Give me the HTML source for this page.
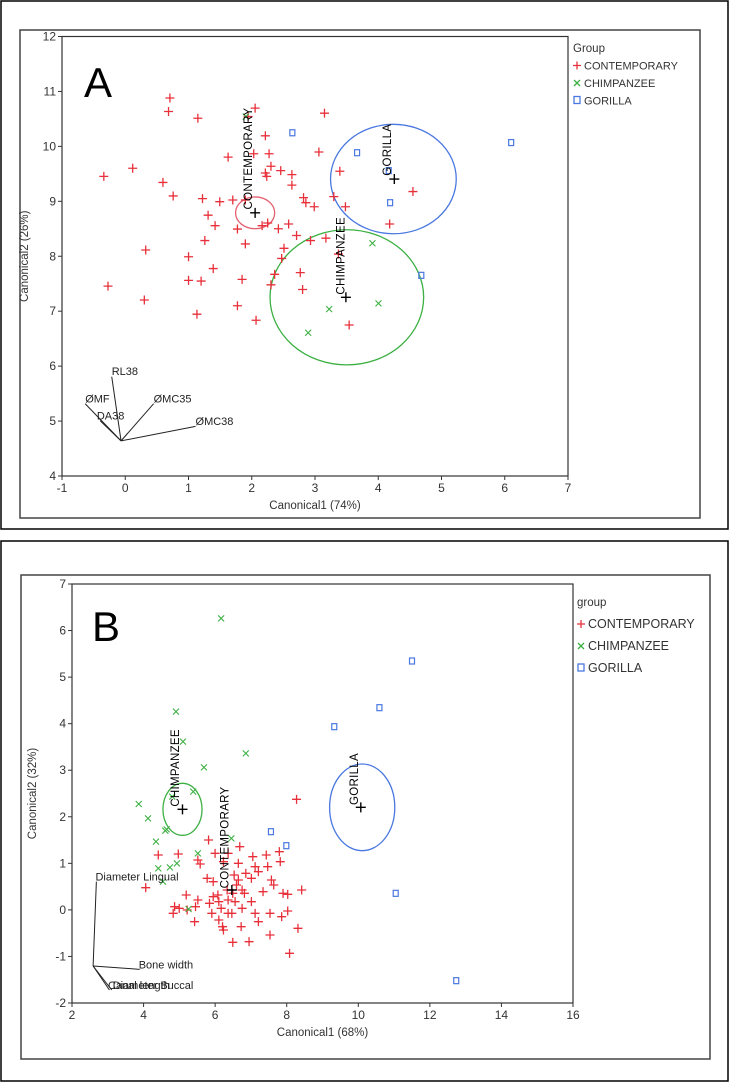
<!DOCTYPE html>
<html><head><meta charset="utf-8"><style>
html,body{margin:0;padding:0;background:#fff;}
svg{display:block;font-family:"Liberation Sans",sans-serif;}
</style></head><body>
<svg id="s" width="730" height="1083" viewBox="0 0 730 1083" xmlns="http://www.w3.org/2000/svg">
<rect x="1" y="1" width="727" height="528" fill="none" stroke="#000" stroke-width="1.5"/>
<rect x="1" y="541" width="727" height="540" fill="none" stroke="#000" stroke-width="1.5"/>
<rect x="20" y="30" width="680" height="488" fill="none" stroke="#444" stroke-width="1.5"/>
<rect x="21" y="575" width="689" height="484" fill="none" stroke="#444" stroke-width="1.5"/>
<g id="g"></g>
</svg>
<script>
var NS="http://www.w3.org/2000/svg",G=document.getElementById('g');
function el(t,a,txt){var e=document.createElementNS(NS,t);for(var k in a)e.setAttribute(k,a[k]);if(txt!=null)e.textContent=txt;G.appendChild(e);return e;}
function panel(o){
 var X=function(zx){return zx/2.148;},Y=function(zy){return o.oy+zy/o.sy;};
 el('rect',{x:o.L,y:o.T,width:o.R-o.L,height:o.B-o.T,fill:'none',stroke:'#333','stroke-width':1.2});
 o.xt.forEach(function(t,i){var x=o.L+i*(o.R-o.L)/(o.xt.length-1);el('line',{x1:x,y1:o.B,x2:x,y2:o.B+4,stroke:'#333'});el('text',{x:x,y:o.B+16,'font-size':12,'text-anchor':'middle',fill:'#333'},t);});
 o.yt.forEach(function(t,i){var y=o.B-i*(o.B-o.T)/(o.yt.length-1);el('line',{x1:o.L-4,y1:y,x2:o.L,y2:y,stroke:'#333'});el('text',{x:o.L-6,y:y+4,'font-size':12,'text-anchor':'end',fill:'#333'},t);});
 el('text',{x:(o.L+o.R)/2,y:o.B+33,'font-size':11.5,'text-anchor':'middle',fill:'#333'},o.xl);
 var yc=(o.T+o.B)/2;el('text',{x:o.ylx,y:yc,'font-size':11.5,'text-anchor':'middle',fill:'#333',transform:'rotate(-90 '+o.ylx+' '+yc+')'},o.yl);
 el('text',{x:o.lblx,y:o.lbly,'font-size':42,fill:'#000'},o.lbl);
 o.ell.forEach(function(e){el('ellipse',{cx:X(e[0]),cy:Y(e[1]),rx:e[2]/2.148,ry:e[3]/o.sy,fill:'none',stroke:e[4],'stroke-width':1.3});});
 o.red.forEach(function(p){var x=X(p[0]),y=Y(p[1]);el('path',{d:'M'+(x-4.5)+' '+y+'h9M'+x+' '+(y-4.5)+'v9',stroke:'#e8303a','stroke-width':1.3});});
 o.grn.forEach(function(p){var x=X(p[0]),y=Y(p[1]);el('path',{d:'M'+(x-3)+' '+(y-3)+'l6 6M'+(x-3)+' '+(y+3)+'l6 -6',stroke:'#3cb043','stroke-width':1.1});});
 o.blu.forEach(function(p){var x=X(p[0]),y=Y(p[1]);el('rect',{x:x-2.5,y:y-3,width:5,height:6,fill:'none',stroke:'#4a78e0','stroke-width':1.2});});
 o.cen.forEach(function(c){var x=X(c[0]),y=Y(c[1]);el('path',{d:'M'+(x-5)+' '+y+'h10M'+x+' '+(y-5)+'v10',stroke:'#000','stroke-width':1.4});
   var tx=X(c[2]),ty=Y(c[3]);el('text',{x:tx,y:ty,'font-size':11.5,fill:'#000',transform:'rotate(-90 '+tx+' '+ty+')','letter-spacing':'0.3'},c[4]);});
 o.lines.forEach(function(l){el('line',{x1:X(l[0]),y1:Y(l[1]),x2:X(l[2]),y2:Y(l[3]),stroke:'#222','stroke-width':1});});
 o.vl.forEach(function(t){el('text',{x:X(t[0]),y:Y(t[1]),'font-size':11,fill:'#222'},t[2]);});
 el('text',{x:o.lgx,y:o.lgy,'font-size':11.5,fill:'#333'},o.lgt);
 var it=[['CONTEMPORARY','r'],['CHIMPANZEE','g'],['GORILLA','b']];
 it.forEach(function(v,i){var y=o.lgy+o.lgs*(i+1),x=o.lgx+4;
   if(v[1]=='r')el('path',{d:'M'+(x-4)+' '+(y-4)+'h8M'+x+' '+(y-8)+'v8',stroke:'#e8303a','stroke-width':1.3});
   if(v[1]=='g')el('path',{d:'M'+(x-3)+' '+(y-7)+'l6 6M'+(x-3)+' '+(y-1)+'l6 -6',stroke:'#3cb043','stroke-width':1.3});
   if(v[1]=='b')el('rect',{x:x-3,y:y-8,width:6,height:7,fill:'none',stroke:'#4a78e0','stroke-width':1.3});
   el('text',{x:x+7,y:y,'font-size':o.lgf,fill:'#333'},v[0]);});
}
panel({oy:0,sy:2.96,L:62,R:568,T:36.5,B:476,xt:['-1','0','1','2','3','4','5','6','7'],yt:['4','5','6','7','8','9','10','11','12'],
 xl:'Canonical1 (74%)',yl:'Canonical2 (26%)',ylx:28,lbl:'A',lblx:84,lbly:97,
 ell:[[548,630,42,47,'#e36070'],[845,530,135,162,'#4a78e0'],[745,880,165,200,'#3cb043']],
 red:[[365,290],[362,330],[425,350],[548,320],[533,345],[697,335],[570,402],[578,455],[490,465],[582,492],[570,512],[573,522],[603,505],[627,517],[627,548],[223,522],[285,498],[350,540],[372,580],[435,588],[472,597],[500,592],[527,592],[447,637],[462,668],[510,678],[563,668],[575,660],[598,677],[620,663],[637,697],[652,585],[657,600],[675,612],[717,582],[742,612],[730,507],[685,450],[440,712],[527,722],[520,827],[405,760],[458,795],[405,830],[432,832],[610,735],[667,712],[700,705],[727,752],[605,765],[590,812],[645,807],[650,857],[582,843],[232,847],[313,740],[310,888],[423,930],[510,905],[550,948],[750,962],[837,663],[887,567],[545,455]],
 grn:[[800,720],[707,915],[662,985],[813,898],[528,345]],
 blu:[[628,393],[767,452],[838,600],[1098,422],[905,815],[835,505]],
 cen:[[548,630,541,620,'CONTEMPORARY'],[847,530,840,520,'GORILLA'],[743,880,740,872,'CHIMPANZEE']],
 lines:[[260,1305,240,1115],[260,1305,183,1195],[260,1305,215,1245],[260,1305,330,1195],[260,1305,420,1262]],
 vl:[[240,1110,'RL38'],[183,1192,'ØMF'],[208,1242,'DA38'],[330,1192,'ØMC35'],[420,1258,'ØMC38']],
 lgx:573,lgy:52,lgs:17.5,lgt:'Group',lgf:11});
panel({oy:560,sy:3.0,L:72,R:573,T:584,B:1003,xt:['2','4','6','8','10','12','14','16'],yt:['-2','-1','0','1','2','3','4','5','6','7'],
 xl:'Canonical1 (68%)',yl:'Canonical2 (32%)',ylx:36,lbl:'B',lblx:92,lbly:641,
 ell:[[392,748,42,78,'#3cb043'],[778,742,70,130,'#4a78e0']],
 red:[[637,718],[313,983],[340,885],[383,882],[425,900],[430,912],[462,880],[448,840],[490,880],[515,860],[543,890],[572,885],[600,875],[602,905],[548,920],[575,920],[555,935],[512,910],[480,905],[445,955],[458,965],[512,960],[540,955],[583,960],[588,975],[608,1000],[618,1003],[648,990],[565,995],[540,1025],[520,1045],[548,1060],[580,1060],[605,1070],[618,1053],[640,1105],[580,1125],[622,1180],[555,1085],[518,1100],[535,1145],[500,1147],[480,1110],[470,1080],[478,1100],[475,1045],[450,1030],[455,1060],[420,1040],[418,1085],[425,1020],[400,1005],[385,1045],[375,1040],[372,1060],[402,1050],[470,1025],[490,1020],[500,1000],[508,975],[520,990],[498,1060],[458,1010],[490,1060],[505,1025],[525,1000],[528,940],[503,945],[468,1005],[488,990]],
 grn:[[475,175],[378,455],[393,545],[528,580],[438,622],[415,695],[298,732],[318,775],[355,812],[358,808],[335,845],[425,880],[380,910],[365,922],[340,925],[350,965],[405,1047],[497,835],[370,710]],
 blu:[[885,303],[815,443],[718,500],[582,815],[615,857],[850,1000],[980,1262]],
 cen:[[392,748,384,740,'CHIMPANZEE'],[498,990,491,985,'CONTEMPORARY'],[775,742,769,735,'GORILLA']],
 lines:[[207,965,200,1218],[200,1218,300,1228],[200,1218,235,1290],[200,1218,240,1290]],
 vl:[[205,962,'Diameter Lingual'],[298,1225,'Bone width'],[232,1287,'Canal length'],[242,1287,'Diameter Buccal']],
 lgx:577,lgy:606,lgs:22,lgt:'group',lgf:12.5});
</script>
</body></html>
